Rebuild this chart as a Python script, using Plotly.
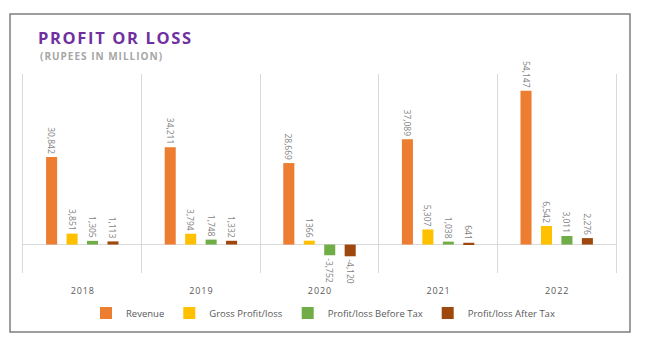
import plotly.graph_objects as go

years = ["2018", "2019", "2020", "2021", "2022"]
revenue = [30842, 34211, 28669, 37089, 54147]
gross = [3851, 3794, 1366, 5307, 6542]
pbt = [1305, 1748, -3752, 1038, 3011]
pat = [1113, 1332, -4120, 641, 2276]
gross_labels = ["3,851", "3,794", "1366", "5,307", "6,542"]
title_text = "PROFIT OR LOSS"
subtitle_text = "(RUPEES IN MILLION)"

HAIR = "\u200a"


def spaced(s):
    return HAIR.join(s)


year_labels = [spaced(y) for y in years]

series = [
    ("Revenue", revenue, "#ED7D31", None),
    ("Gross Profit/loss", gross, "#FFC000", gross_labels),
    ("Profit/loss Before Tax", pbt, "#70AD47", None),
    ("Profit/loss After Tax", pat, "#9E480E", None),
]

fig = go.Figure()
for name, vals, color, labels in series:
    txt = labels if labels is not None else [f"{v:,}" for v in vals]
    fig.add_trace(go.Bar(
        x=years, y=vals, name=name, text=txt,
        textposition="outside", textangle=90, cliponaxis=False,
        constraintext="none",
        textfont=dict(family="Open Sans", size=8.5, color="#7F7F7F"),
        marker=dict(color=color, line=dict(width=0)),
    ))

W, H = 646, 338
L, R, T, B = 23, 30, 74, 65
pw, ph = W - L - R, H - T - B


def px_x(px):
    return (px - L) / pw


def px_y(py):
    return (H - B - py) / ph


fig.update_layout(
    width=W, height=H,
    margin=dict(l=L, r=R, t=T, b=B, autoexpand=False),
    paper_bgcolor="white", plot_bgcolor="white",
    barmode="group", bargap=0.31, bargroupgap=0.46,
    showlegend=True,
    legend=dict(orientation="h", xref="container", x=0.5, xanchor="center",
                yref="container", y=1 - 313 / H, yanchor="middle",
                bgcolor="rgba(0,0,0,0)",
                font=dict(family="Open Sans", size=9.5, color="#595959"),
                itemwidth=30, itemsizing="constant", traceorder="normal"),
    xaxis=dict(type="category", tickmode="array", tickvals=years, ticktext=year_labels,
               tickson="boundaries", showgrid=True, gridcolor="#D9D9D9", gridwidth=1,
               ticks="", showline=False, zeroline=False,
               tickfont=dict(family="Open Sans", size=9, color="#595959"),
               ticklabelstandoff=11),
    yaxis=dict(range=[-10000, 60000], showgrid=False, showticklabels=False, ticks="",
               zeroline=True, zerolinecolor="#D9D9D9", zerolinewidth=1,
               showline=True, mirror=True, linecolor="#D9D9D9", linewidth=1),
    font=dict(family="Open Sans"),
    title=dict(text="<b>" + spaced(title_text) + "</b>", xref="container", yref="container",
               x=38 / W, xanchor="left", y=1 - 38 / H, yanchor="middle",
               font=dict(family="Open Sans", size=16.5, color="#7030A0")),
    annotations=[dict(text="<b>" + spaced(subtitle_text) + "</b>", xref="paper", yref="paper",
                      x=px_x(38), y=px_y(56), xanchor="left", yanchor="middle",
                      showarrow=False,
                      font=dict(family="Open Sans", size=10, color="#A6A6A6"))],
    shapes=[dict(type="rect", xref="paper", yref="paper",
                 x0=px_x(10), x1=px_x(630), y0=px_y(332), y1=px_y(14),
                 line=dict(color="#7F7F7F", width=1.5), layer="below")],
)

fig.write_html("out.html")
